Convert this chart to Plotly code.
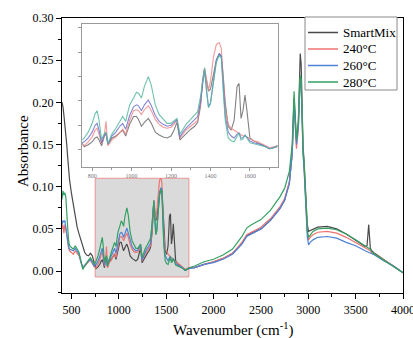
import plotly.graph_objects as go

# ---------------- data ----------------
wavenumber = [400, 410, 420, 430, 440, 450, 460, 470, 480, 500, 520, 540, 560, 580, 600, 620, 640, 660, 680, 700,
              720, 740, 760, 780, 800, 815, 825, 835, 848, 860, 870, 880, 900, 920, 940, 955, 970, 990, 1010, 1025,
              1035, 1050, 1065, 1085, 1100, 1120, 1140, 1160, 1180, 1200, 1215, 1230, 1245, 1260, 1280, 1300, 1320,
              1335, 1350, 1360, 1370, 1380, 1390, 1400, 1415, 1430, 1445, 1455, 1465, 1475, 1490, 1505, 1520, 1535,
              1545, 1555, 1565, 1575, 1585, 1600, 1620, 1640, 1660, 1680, 1700, 1720, 1740, 1800, 1900, 2000, 2100,
              2200, 2300, 2350, 2400, 2500, 2600, 2700, 2750, 2800, 2830, 2850, 2875, 2895, 2905, 2915, 2925, 2935,
              2945, 2955, 2962, 2975, 2990, 3003, 3020, 3050, 3100, 3200, 3300, 3400, 3500, 3600, 3620, 3638, 3655,
              3670, 3700, 3800, 3900, 4000]

smartmix = [0.200, 0.195, 0.185, 0.175, 0.165, 0.150, 0.135, 0.120, 0.108, 0.092, 0.078, 0.064, 0.052, 0.044, 0.036,
            0.028, 0.022, 0.019, 0.018, 0.021, 0.018, 0.010, 0.003, 0.005, 0.008, 0.012, 0.013, 0.010, 0.004, 0.013,
            0.017, 0.005, 0.012, 0.014, 0.018, 0.020, 0.014, 0.026, 0.034, 0.034, 0.031, 0.024, 0.028, 0.032, 0.027,
            0.018, 0.015, 0.013, 0.012, 0.014, 0.020, 0.028, 0.010, 0.013, 0.018, 0.021, 0.024, 0.028, 0.045, 0.070,
            0.082, 0.070, 0.060, 0.062, 0.078, 0.092, 0.098, 0.096, 0.075, 0.048, 0.024, 0.020, 0.030, 0.065, 0.068,
            0.032, 0.040, 0.056, 0.040, 0.012, 0.009, 0.007, 0.005, 0.003, 0.001, 0.002, 0.004, 0.004, 0.008, 0.011,
            0.015, 0.021, 0.033, 0.042, 0.045, 0.050, 0.060, 0.074, 0.084, 0.105, 0.140, 0.205, 0.155, 0.175, 0.215,
            0.258, 0.245, 0.190, 0.147, 0.132, 0.115, 0.080, 0.055, 0.047, 0.048, 0.050, 0.052, 0.053, 0.050, 0.044,
            0.037, 0.029, 0.030, 0.055, 0.027, 0.024, 0.021, 0.013, 0.006, -0.002]

t240 = [0.050, 0.055, 0.045, 0.055, 0.050, 0.042, 0.032, 0.027, 0.024, 0.022, 0.020, 0.024, 0.021, 0.018, 0.010,
        0.004, 0.006, 0.009, 0.011, 0.013, 0.008, 0.005, 0.004, 0.008, 0.013, 0.020, 0.022, 0.016, 0.006, 0.012,
        0.029, 0.004, 0.010, 0.013, 0.017, 0.021, 0.016, 0.030, 0.040, 0.041, 0.040, 0.036, 0.041, 0.045, 0.040,
        0.031, 0.026, 0.023, 0.022, 0.023, 0.026, 0.030, 0.012, 0.016, 0.021, 0.024, 0.027, 0.030, 0.048, 0.072,
        0.084, 0.072, 0.061, 0.070, 0.095, 0.108, 0.110, 0.104, 0.070, 0.042, 0.026, 0.022, 0.020, 0.018, 0.017,
        0.015, 0.014, 0.014, 0.013, 0.011, 0.009, 0.008, 0.006, 0.004, 0.002, 0.003, 0.004, 0.004, 0.008, 0.011,
        0.015, 0.021, 0.034, 0.043, 0.046, 0.052, 0.062, 0.076, 0.086, 0.105, 0.140, 0.200, 0.145, 0.168, 0.200,
        0.228, 0.225, 0.172, 0.140, 0.124, 0.108, 0.072, 0.046, 0.037, 0.040, 0.043, 0.046, 0.047, 0.045, 0.040,
        0.034, 0.027, 0.026, 0.025, 0.024, 0.022, 0.020, 0.013, 0.006, -0.002]

t260 = [0.055, 0.060, 0.058, 0.060, 0.052, 0.045, 0.034, 0.029, 0.026, 0.025, 0.024, 0.027, 0.023, 0.020, 0.011,
        0.004, 0.007, 0.010, 0.012, 0.014, 0.009, 0.006, 0.008, 0.012, 0.018, 0.025, 0.027, 0.020, 0.007, 0.014,
        0.017, 0.006, 0.014, 0.018, 0.024, 0.027, 0.021, 0.035, 0.044, 0.046, 0.045, 0.040, 0.046, 0.051, 0.045,
        0.035, 0.029, 0.026, 0.024, 0.025, 0.028, 0.031, 0.013, 0.018, 0.023, 0.027, 0.030, 0.034, 0.050, 0.068,
        0.082, 0.060, 0.044, 0.048, 0.072, 0.092, 0.099, 0.096, 0.065, 0.035, 0.018, 0.014, 0.012, 0.016, 0.017,
        0.012, 0.012, 0.015, 0.013, 0.009, 0.007, 0.006, 0.005, 0.003, 0.001, 0.002, 0.003, 0.004, 0.008, 0.010,
        0.014, 0.020, 0.032, 0.041, 0.044, 0.050, 0.060, 0.074, 0.084, 0.103, 0.138, 0.198, 0.150, 0.170, 0.200,
        0.225, 0.222, 0.170, 0.138, 0.122, 0.106, 0.070, 0.040, 0.031, 0.034, 0.037, 0.040, 0.041, 0.039, 0.034,
        0.030, 0.024, 0.023, 0.022, 0.021, 0.020, 0.019, 0.012, 0.006, -0.002]

t280 = [0.085, 0.095, 0.090, 0.093, 0.088, 0.075, 0.052, 0.036, 0.030, 0.028, 0.026, 0.030, 0.025, 0.022, 0.012,
        0.002, 0.006, 0.010, 0.013, 0.016, 0.011, 0.008, 0.012, 0.018, 0.027, 0.037, 0.040, 0.030, 0.010, 0.016,
        0.018, 0.006, 0.016, 0.022, 0.029, 0.034, 0.029, 0.046, 0.053, 0.059, 0.058, 0.053, 0.065, 0.075, 0.066,
        0.046, 0.036, 0.031, 0.027, 0.027, 0.030, 0.032, 0.016, 0.021, 0.027, 0.031, 0.035, 0.039, 0.055, 0.072,
        0.084, 0.062, 0.043, 0.047, 0.070, 0.090, 0.097, 0.094, 0.060, 0.030, 0.012, 0.009, 0.008, 0.014, 0.017,
        0.010, 0.011, 0.015, 0.012, 0.007, 0.006, 0.005, 0.004, 0.003, 0.001, 0.002, 0.004, 0.006, 0.011, 0.014,
        0.019, 0.026, 0.041, 0.051, 0.055, 0.061, 0.072, 0.088, 0.098, 0.118, 0.150, 0.213, 0.155, 0.178, 0.210,
        0.232, 0.228, 0.176, 0.144, 0.128, 0.112, 0.076, 0.048, 0.040, 0.043, 0.047, 0.050, 0.051, 0.049, 0.044,
        0.037, 0.029, 0.028, 0.027, 0.026, 0.023, 0.020, 0.013, 0.006, -0.002]

series_names = ["SmartMix", "240°C", "260°C", "280°C"]
series_values = [smartmix, t240, t260, t280]
series_colors = ["#4a4a4a", "#ee7373", "#4f82d6", "#34a062"]
inset_colors = ["#6e6e6e", "#f08a8a", "#6f6fd0", "#55b8a0"]

x_ticks_main = [500, 1000, 1500, 2000, 2500, 3000, 3500, 4000]
y_ticks_main = [0.00, 0.05, 0.10, 0.15, 0.20, 0.25, 0.30]
zoom_box = dict(x0=750, x1=1740, y0=-0.007, y1=0.11)

# ---------------- figure ----------------
W, H = 413, 338
FONT = "Liberation Serif"


def px_x(p):
    return p / W


def px_y(p):
    return 1 - p / H


fig = go.Figure()
for name, vals, col in zip(series_names, series_values, series_colors):
    fig.add_trace(go.Scatter(x=wavenumber, y=vals, mode="lines", name=name, showlegend=False,
                             line=dict(color=col, width=1.2), xaxis="x", yaxis="y"))
for name, vals, col in zip(series_names, series_values, inset_colors):
    fig.add_trace(go.Scatter(x=wavenumber, y=vals, mode="lines", name=name, showlegend=False,
                             line=dict(color=col, width=1.1), opacity=0.85, xaxis="x2", yaxis="y2"))

# zoom region marker on the main axes
fig.add_shape(type="rect", xref="x", yref="y", layer="below",
              x0=zoom_box["x0"], x1=zoom_box["x1"], y0=zoom_box["y0"], y1=zoom_box["y1"],
              fillcolor="rgba(205,205,205,0.75)", line=dict(color="rgba(235,140,140,0.9)", width=1))

# hand-built legend (box, line samples, labels)
legend_box = dict(x0=305, x1=397, y0=17, y1=90)
legend_rows = [32.5, 49, 65.5, 82]
fig.add_shape(type="rect", xref="paper", yref="paper",
              x0=px_x(legend_box["x0"]), x1=px_x(legend_box["x1"]),
              y0=px_y(legend_box["y1"]), y1=px_y(legend_box["y0"]),
              fillcolor="white", line=dict(color="#8a8a8a", width=1), layer="above")
annotations = []
for name, col, ry in zip(series_names, series_colors, legend_rows):
    fig.add_shape(type="line", xref="paper", yref="paper", x0=px_x(308), x1=px_x(338),
                  y0=px_y(ry), y1=px_y(ry), line=dict(color=col, width=1.5), layer="above")
    annotations.append(dict(text=name, x=px_x(340.5), y=px_y(ry), xref="paper", yref="paper",
                            xanchor="left", yanchor="middle", showarrow=False,
                            font=dict(family=FONT, size=13, color="black")))

axis_common = dict(showline=True, linecolor="black", linewidth=1.4, mirror=True, ticks="outside",
                   ticklen=5, tickwidth=1.1, tickcolor="black", showgrid=False, zeroline=False,
                   automargin=False,
                   tickfont=dict(family=FONT, size=12, color="black"))

annotations += [
    dict(text="Absorbance", textangle=-90, x=px_x(23), y=px_y(151), xref="paper", yref="paper",
         showarrow=False, font=dict(family=FONT, size=15, color="black"), xanchor="center", yanchor="middle"),
    dict(text="Wavenumber (cm<sup>-1</sup>)", x=px_x(233), y=px_y(329), xref="paper", yref="paper",
         showarrow=False, font=dict(family=FONT, size=15, color="black"), xanchor="center", yanchor="middle"),
]

fig.update_layout(
    width=W, height=H,
    margin=dict(l=0, r=0, t=0, b=0),
    paper_bgcolor="white", plot_bgcolor="white",
    font=dict(family=FONT, color="black"),
    showlegend=False,
    xaxis=dict(domain=[px_x(62), px_x(403)], range=[400, 4000], tickvals=x_ticks_main,
               ticklabeloverflow="allow",
               minor=dict(dtick=250, ticks="outside", ticklen=3, tickcolor="black"),
               anchor="y", **axis_common),
    yaxis=dict(domain=[px_y(293), px_y(18)], range=[-0.026, 0.30], tickvals=y_ticks_main,
               tickformat=".2f", minor=dict(dtick=0.025, ticks="outside", ticklen=3, tickcolor="black"),
               anchor="x", **axis_common),
    xaxis2=dict(domain=[px_x(82.3), px_x(277.5)], range=[750, 1740], anchor="y2",
                tickvals=[800, 1000, 1200, 1400, 1600], ticktext=["800", "1000", "1200", "1400", "1600"],
                minor=dict(dtick=100, ticks="outside", ticklen=2, tickcolor="#999"),
                showline=True, linecolor="#9a9a9a", linewidth=1, mirror=True, ticks="outside",
                ticklen=3, tickcolor="#999", showgrid=False, zeroline=False, automargin=False,
                tickfont=dict(family=FONT, size=6, color="#777")),
    yaxis2=dict(domain=[px_y(166.7), px_y(24)], range=[-0.0175, 0.129], anchor="x2",
                dtick=0.025, tick0=0, showticklabels=False, automargin=False,
                showline=True, linecolor="#9a9a9a", linewidth=1, mirror=True, ticks="outside",
                ticklen=3, tickcolor="#999", showgrid=False, zeroline=False),
    annotations=annotations,
)

clip_js = (
    "document.documentElement.style.margin='0';"
    "document.body.style.margin='0';document.body.style.overflow='hidden';"
    "document.querySelectorAll('.plotly-graph-div, .svg-container, .main-svg').forEach("
    "function(e){e.style.overflow='hidden';});"
)
fig.write_html("out.html", config={"displayModeBar": False}, post_script=clip_js)
